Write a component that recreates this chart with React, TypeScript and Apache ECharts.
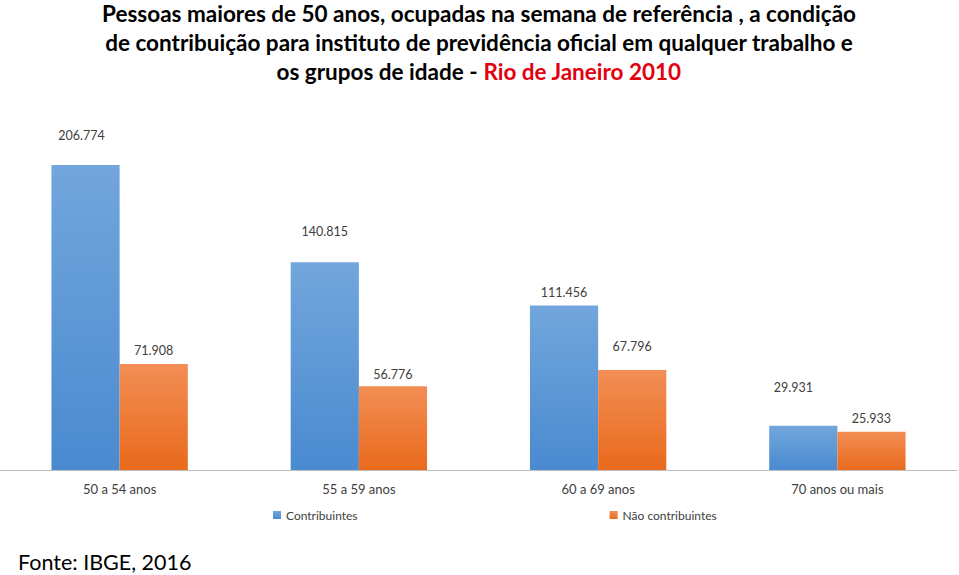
import React, { useEffect, useRef } from "react";
import * as echarts from "echarts";

const categories = ["50 a 54 anos", "55 a 59 anos", "60 a 69 anos", "70 anos ou mais"];
const contribuintes = [206774, 140815, 111456, 29931];
const naoContribuintes = [71908, 56776, 67796, 25933];
const seriesNames = ["Contribuintes", "Não contribuintes"];
const titleLines = [
  "Pessoas maiores de 50 anos, ocupadas na semana de referência , a condição",
  "de contribuição para instituto de previdência oficial em qualquer trabalho e",
  "os grupos de idade - ",
];
const titleRed = "Rio de Janeiro 2010";
const source = "Fonte: IBGE, 2016";

// manual label offsets (as in the original, labels were moved by hand)
const labelOffsetsA: [number, number][] = [[-4, -18], [0, -19], [0, -2], [-10, -27]];
const labelOffsetsB: [number, number][] = [[0, -2], [0, 0], [0, -12], [0, -2]];

const FONT = "Lato, 'Open Sans', sans-serif";

const fmt = (v: number) => String(v).replace(/\B(?=(\d{3})+(?!\d))/g, ".");

export default function App() {
  const ref = useRef<HTMLDivElement>(null);
  useEffect(() => {
    if (!ref.current) return;
    const chart = echarts.init(ref.current, undefined, { renderer: "svg" });
    const blue = new echarts.graphic.LinearGradient(0, 0, 0, 1, [
      { offset: 0, color: "#72A6DC" },
      { offset: 1, color: "#4A8AD0" },
    ]);
    const orange = new echarts.graphic.LinearGradient(0, 0, 0, 1, [
      { offset: 0, color: "#F28E55" },
      { offset: 1, color: "#E96A1C" },
    ]);
    const labelBase = {
      show: true,
      position: "top",
      color: "#404040",
      fontFamily: FONT,
      fontSize: 12.5,
    };
    const titleStyle = { fontFamily: FONT, fontWeight: "bold", fontSize: 22.5, lineHeight: 29 };
    chart.setOption({
      animation: false,
      textStyle: { fontFamily: FONT },
      grid: { left: 0, right: 2, top: 116, bottom: 105, containLabel: false },
      legend: {
        data: seriesNames,
        left: 268,
        top: 504,
        itemWidth: 8,
        itemHeight: 8,
        itemGap: 252,
        icon: "rect",
        textStyle: { fontFamily: FONT, fontSize: 12, color: "#404040" },
      },
      xAxis: {
        type: "category",
        data: categories,
        axisLine: { lineStyle: { color: "#BFBFBF", width: 1 } },
        axisTick: { show: false },
        axisLabel: { color: "#404040", fontSize: 13, fontFamily: FONT, margin: 12 },
      },
      yAxis: { type: "value", min: 0, max: 240, show: false, splitLine: { show: false } },
      series: [
        {
          name: seriesNames[0],
          type: "bar",
          barCategoryGap: "43%",
          barGap: "0%",
          itemStyle: { color: blue },
          data: contribuintes.map((v, i) => ({
            value: v / 1000,
            label: { ...labelBase, offset: labelOffsetsA[i], formatter: fmt(v) },
          })),
        },
        {
          name: seriesNames[1],
          type: "bar",
          itemStyle: { color: orange },
          data: naoContribuintes.map((v, i) => ({
            value: v / 1000,
            label: { ...labelBase, offset: labelOffsetsB[i], formatter: fmt(v) },
          })),
        },
      ],
      graphic: [
        {
          type: "text",
          x: 479,
          y: -1.5,
          style: {
            ...titleStyle,
            text: titleLines[0] + "\n" + titleLines[1],
            align: "center",
            fill: "#000",
          },
        },
        {
          type: "text",
          x: 479,
          y: 56.5,
          style: {
            text: "{a|" + titleLines[2] + "}{r|" + titleRed + "}",
            align: "center",
            rich: {
              a: { ...titleStyle, fill: "#000", color: "#000" },
              r: { ...titleStyle, fill: "#E3000F", color: "#E3000F" },
            },
          },
        },
        {
          type: "text",
          x: 18,
          y: 562,
          style: { text: source, fontFamily: FONT, fontSize: 21.5, fill: "#000", verticalAlign: "middle" },
        },
      ],
    });
    return () => chart.dispose();
  }, []);
  return <div ref={ref} style={{ width: 959, height: 575, position: "absolute", left: 0, top: 0 }} />;
}
